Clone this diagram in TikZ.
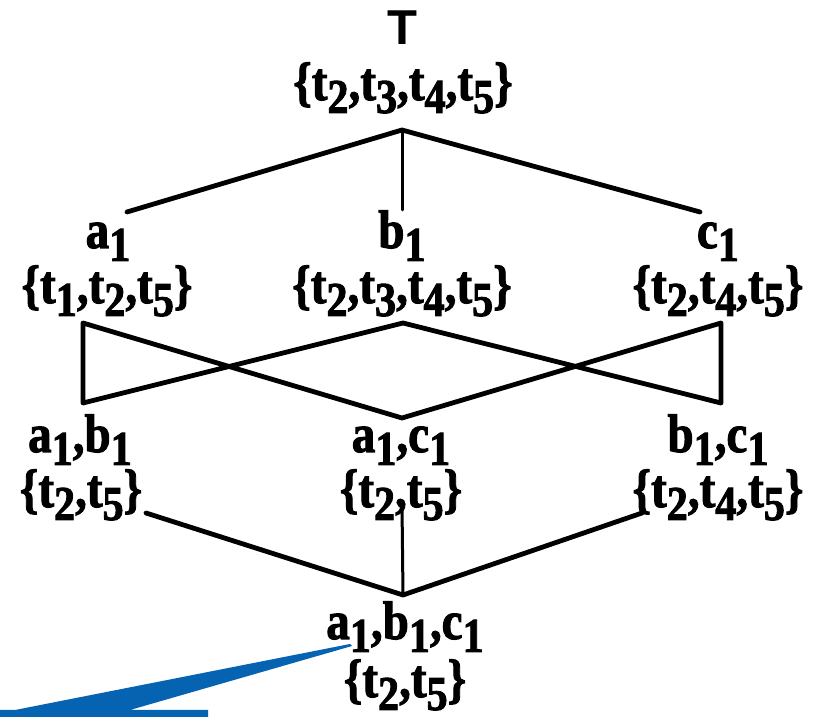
\documentclass[tikz,border=0pt]{standalone}
\usepackage{fontspec}
\setmainfont{Liberation Serif}
\setsansfont{Liberation Sans}
\newfontfamily\serifbold{Liberation Serif Bold}[FakeBold=2]
\usepackage{graphicx}
\newcommand\subs[1]{\raisebox{-0.24em}{\scalebox{0.9}{#1}}}
\newcommand\lb[1]{\scalebox{0.87}[1]{#1}}
\definecolor{callblue}{RGB}{5,99,177}
\tikzset{
  lbl/.style={font=\fontsize{54}{54}\selectfont\serifbold, inner sep=0pt, anchor=base},
  tstyle/.style={font=\fontsize{49}{49}\selectfont\sffamily\bfseries, inner sep=0pt, anchor=base},
  edge/.style={line width=4.8pt, line cap=round, line join=round},
  thinedge/.style={line width=3pt, line cap=round}
}
\begin{document}
\begin{tikzpicture}[x=1pt,y=1pt]
\useasboundingbox (0,0) rectangle (816,717);
% callout tail
\fill[callblue] (350,73) -- (15,7) -- (0,7) -- (0,0) -- (208,0) -- (208,7) -- (130,7) -- (352,71) -- cycle;
% labels
\node[tstyle] (T) at (402,672) {T};
\node[lbl] (Tset) at (403,617) {\lb{\{t\subs{2},t\subs{3},t\subs{4},t\subs{5}\}}};
\node[lbl] (a1) at (108,469) {\lb{a\subs{1}}};
\node[lbl] (b1) at (402,469) {\lb{b\subs{1}}};
\node[lbl] (c1) at (718,469) {\lb{c\subs{1}}};
\node[lbl] (a1set) at (107,414) {\lb{\{t\subs{1},t\subs{2},t\subs{5}\}}};
\node[lbl] (b1set) at (402,414) {\lb{\{t\subs{2},t\subs{3},t\subs{4},t\subs{5}\}}};
\node[lbl] (c1set) at (718,414) {\lb{\{t\subs{2},t\subs{4},t\subs{5}\}}};
\node[lbl] (ab) at (80,265) {\lb{a\subs{1},b\subs{1}}};
\node[lbl] (ac) at (401,265) {\lb{a\subs{1},c\subs{1}}};
\node[lbl] (bc) at (718,265) {\lb{b\subs{1},c\subs{1}}};
\node[lbl] (abset) at (81,210) {\lb{\{t\subs{2},t\subs{5}\}}};
\node[lbl] (acset) at (401,210) {\lb{\{t\subs{2},t\subs{5}\}}};
\node[lbl] (bcset) at (718,210) {\lb{\{t\subs{2},t\subs{4},t\subs{5}\}}};
\node[lbl] (abc) at (405,78) {\lb{a\subs{1},b\subs{1},c\subs{1}}};
\node[lbl] (abcset) at (405,20) {\lb{\{t\subs{2},t\subs{5}\}}};
% connector points
\coordinate (top) at (402,587);
\coordinate (ua) at (127,505);
\coordinate (ub) at (402,507);
\coordinate (uc) at (700,505);
\coordinate (pa) at (83,394);
\coordinate (pb) at (403,394);
\coordinate (pc) at (721,394);
\coordinate (qab) at (83,314);
\coordinate (qac) at (402,299);
\coordinate (qbc) at (721,314);
\coordinate (rl) at (146,204);
\coordinate (rm) at (402,212);
\coordinate (rr) at (642,204);
\coordinate (bot) at (403,122);
% connectors
\draw[edge] (ua) -- (top) -- (uc);
\draw[thinedge] (top) -- (ub);
\draw[edge] (qab) -- (pa) -- (qac) -- (pc) -- (qbc) -- (pb) -- cycle;
\draw[edge] (rl) -- (bot) -- (rr);
\draw[thinedge] (rm) -- (bot);
\end{tikzpicture}
\end{document}
